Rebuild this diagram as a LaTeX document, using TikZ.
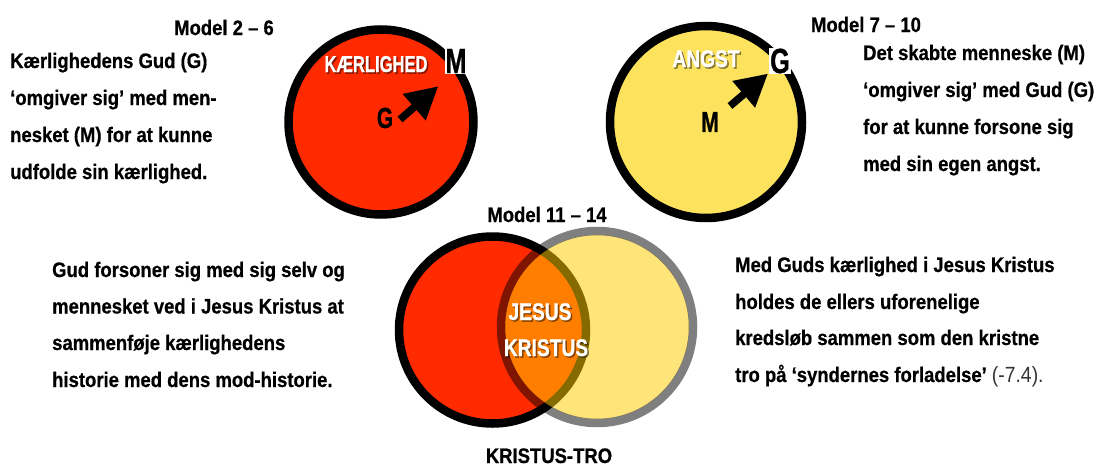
\documentclass[tikz,border=0pt]{standalone}
\usepackage{fontspec}
\setmainfont{Liberation Sans}[FakeStretch=0.88, BoldFeatures={FakeBold=0.6}]
\newfontfamily\narrowfont{Liberation Sans}[FakeStretch=0.72, BoldFeatures={FakeBold=0.8}]
\newfontfamily\vennfont{Liberation Sans}[FakeStretch=0.80, BoldFeatures={FakeBold=0.8}]
\usetikzlibrary{arrows.meta}
\definecolor{redfill}{HTML}{FF2A00}
\definecolor{yellowfill}{HTML}{FDE25E}
\definecolor{vennyellow}{HTML}{FFCC00}
\tikzset{
  body/.style={inner sep=0pt, anchor=base west, font=\bfseries\fontsize{21}{24}\selectfont},
  bodyc/.style={inner sep=0pt, anchor=base, font=\bfseries\fontsize{21}{24}\selectfont},
  ring/.style={draw=black, line width=8.5pt, circle, inner sep=0pt},
  whitelabel/.style={inner sep=0pt, anchor=base, text=white, font=\narrowfont\bfseries\fontsize{23}{26}\selectfont},
  shadowlabel/.style={inner sep=0pt, anchor=base, text=black, opacity=0.45, font=\narrowfont\bfseries\fontsize{23}{26}\selectfont},
  vwhitelabel/.style={inner sep=0pt, anchor=base, text=white, font=\vennfont\bfseries\fontsize{24}{26}\selectfont},
  vshadowlabel/.style={inner sep=0pt, anchor=base, text=black, opacity=0.45, font=\vennfont\bfseries\fontsize{24}{26}\selectfont},
  letter/.style={inner sep=0pt, anchor=center, font=\narrowfont\bfseries\fontsize{29}{30}\selectfont},
  boxletter/.style={fill=white, inner sep=1pt, anchor=center, font=\narrowfont\bfseries\fontsize{35}{36}\selectfont},
  bigarrow/.style={line width=7.5pt, -{Triangle[length=32pt,width=33pt]}},
}
\begin{document}
\begin{tikzpicture}[x=1pt,y=-1pt]
\useasboundingbox (0,0) rectangle (1109,466);
% ---------- top left circle: love ----------
\node[ring, fill=redfill, minimum size=185pt] (c1) at (381,122) {};
\node[shadowlabel] (kshadow) at (377.5,73.5) {KÆRLIGHED};
\node[whitelabel] (kl) at (376,72) {KÆRLIGHED};
\node[boxletter] (m1) at (456,61) {M};
\node[letter] (g1) at (385,118) {G};
\coordinate (a1s) at (400,119.5);
\coordinate (a1t) at ([shift={(-6,12)}]m1.south west);
\draw[bigarrow] (a1s) -- (a1t);
% ---------- top right circle: fear ----------
\node[ring, fill=yellowfill, minimum size=192pt] (c2) at (706,122) {};
\node[vshadowlabel] (ashadow) at (707.5,68.5) {ANGST};
\node[vwhitelabel] (al) at (706,67) {ANGST};
\node[boxletter] (g2) at (780,61) {G};
\node[letter] (m2) at (710,122) {M};
\coordinate (a2s) at (730,106);
\coordinate (a2t) at ([shift={(-1,-1)}]g2.south west);
\draw[bigarrow] (a2s) -- (a2t);
% ---------- venn ----------
\node[ring, fill=redfill, minimum size=187pt] (v1) at (492.5,330) {};
\node[circle, fill=vennyellow, fill opacity=0.52, minimum size=184pt, inner sep=0pt] (v2) at (597,327) {};
\node[circle, draw=black, draw opacity=0.5, line width=8.5pt, minimum size=192pt, inner sep=0pt] (v2ring) at (597,327) {};
\node[vshadowlabel] (jshadow) at (541.5,321.5) {JESUS};
\node[vwhitelabel] (jl) at (540,320) {JESUS};
\node[vshadowlabel] (kkshadow) at (547.5,357.5) {KRISTUS};
\node[vwhitelabel] (kkl) at (546,356) {KRISTUS};
% ---------- headings ----------
\node[bodyc] (h1) at (224,35) {Model 2 – 6};
\node[bodyc] (h2) at (866,32) {Model 7 – 10};
\node[bodyc] (h3) at (547,222) {Model 11 – 14};
\node[bodyc] (h4) at (549,463) {KRISTUS-TRO};
% ---------- top left text ----------
\node[body] (t1a) at (10,68) {Kærlighedens Gud (G)};
\node[body] (t1b) at (10,105) {‘omgiver sig’ med men-};
\node[body] (t1c) at (10,142) {nesket (M) for at kunne};
\node[body] (t1d) at (10,179) {udfolde sin kærlighed.};
% ---------- top right text ----------
\node[body] (t2a) at (863,60) {Det skabte menneske (M)};
\node[body] (t2b) at (863,97) {‘omgiver sig’ med Gud (G)};
\node[body] (t2c) at (863,134) {for at kunne forsone sig};
\node[body] (t2d) at (863,171) {med sin egen angst.};
% ---------- bottom left text ----------
\node[body] (t3a) at (52,277) {Gud forsoner sig med sig selv og};
\node[body] (t3b) at (52,313.5) {mennesket ved i Jesus Kristus at};
\node[body] (t3c) at (52,350) {sammenføje kærlighedens};
\node[body] (t3d) at (52,387) {historie med dens mod-historie.};
% ---------- bottom right text ----------
\node[body] (t4a) at (735,272) {Med Guds kærlighed i Jesus Kristus};
\node[body] (t4b) at (735,309) {holdes de ellers uforenelige};
\node[body] (t4c) at (735,345) {kredsløb sammen som den kristne};
\node[body] (t4d) at (735,382) {tro på ‘syndernes forladelse’ {\mdseries\fontsize{22}{24}\selectfont\color{black!80}(-7.4).}};
\end{tikzpicture}
\end{document}
